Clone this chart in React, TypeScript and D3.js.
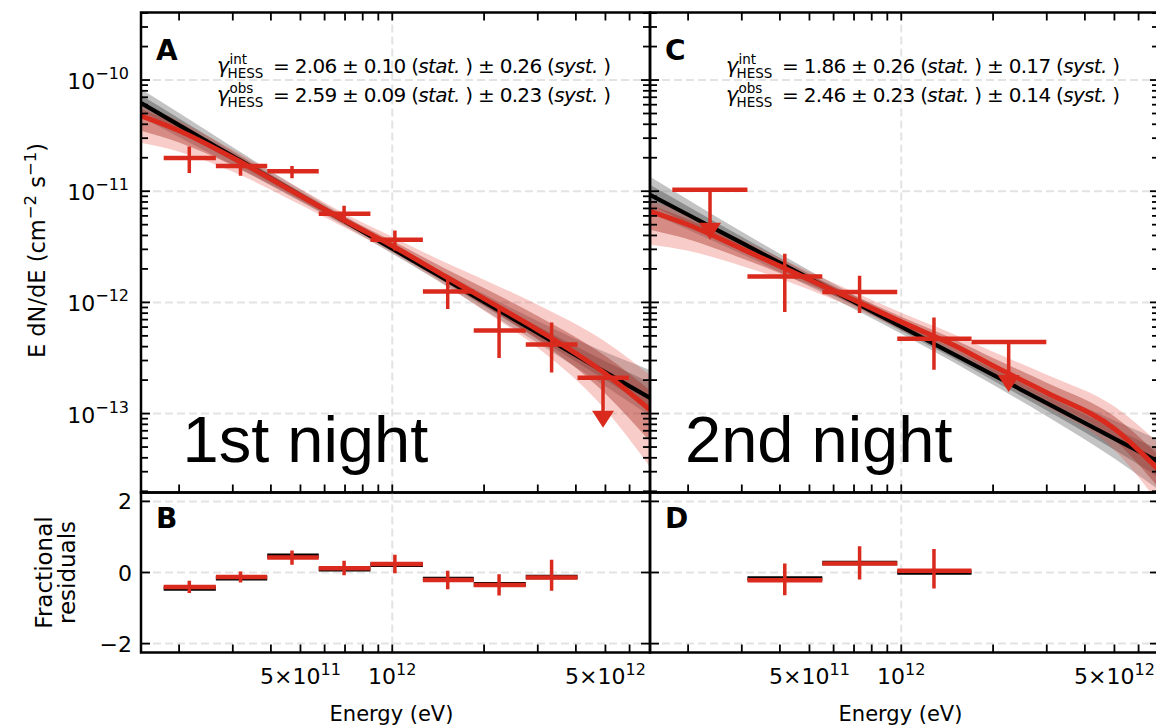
import React, { useEffect, useRef } from 'react';
import * as d3 from 'd3';

const modelEnergy = [1.5e11, 2e11, 3e11, 5e11, 7e11, 1e12, 1.5e12, 2e12, 3e12, 5e12, 7e12];

// ---- 1st night (panels A, B)
const n1Center = [2.16e11, 3.18e11, 4.69e11, 6.95e11, 1.02e12, 1.52e12, 2.24e12, 3.33e12];
const n1BinLow = [1.78e11, 2.64e11, 3.89e11, 5.74e11, 8.48e11, 1.26e12, 1.85e12, 2.74e12];
const n1BinHigh = [2.64e11, 3.89e11, 5.74e11, 8.48e11, 1.26e12, 1.85e12, 2.74e12, 4.05e12];
const n1Flux = [1.99e-11, 1.69e-11, 1.51e-11, 6.27e-12, 3.66e-12, 1.25e-12, 5.59e-13, 4.19e-13];
const n1FluxLow = [1.46e-11, 1.38e-11, 1.31e-11, 5.17e-12, 2.93e-12, 8.71e-13, 3.16e-13, 2.34e-13];
const n1FluxHigh = [2.53e-11, 1.92e-11, 1.69e-11, 7.4e-12, 4.44e-12, 1.68e-12, 8.71e-13, 6.6e-13];
const n1UlCenter = [4.91e12];
const n1UlBinLow = [4.05e12];
const n1UlBinHigh = [5.97e12];
const n1UlFlux = [2.1e-13];

const n1BlackModel = [6.21e-11, 3.93e-11, 2.06e-11, 9.14e-12, 5.36e-12, 3.04e-12, 1.6e-12, 1.01e-12, 5.3e-13, 2.35e-13, 1.38e-13];
const n1RedModel = [4.77e-11, 3.5e-11, 2.0e-11, 9.1e-12, 5.42e-12, 3.23e-12, 1.7e-12, 1.08e-12, 5.67e-13, 2.28e-13, 1.08e-13];
// band half-widths in dex (up / down), outer and inner
const n1BlackOuterUp = [0.126, 0.108, 0.081, 0.054, 0.045, 0.045, 0.054, 0.072, 0.108, 0.18, 0.252];
const n1BlackOuterDown = [0.126, 0.108, 0.081, 0.054, 0.045, 0.045, 0.054, 0.072, 0.09, 0.126, 0.162];
const n1BlackInnerUp = [0.07, 0.06, 0.045, 0.03, 0.025, 0.025, 0.03, 0.04, 0.06, 0.1, 0.14];
const n1BlackInnerDown = [0.07, 0.06, 0.045, 0.03, 0.025, 0.025, 0.03, 0.04, 0.05, 0.07, 0.09];
const n1RedOuterUp = [0.108, 0.09, 0.072, 0.063, 0.063, 0.081, 0.126, 0.171, 0.225, 0.288, 0.315];
const n1RedOuterDown = [0.243, 0.189, 0.126, 0.081, 0.063, 0.063, 0.081, 0.108, 0.162, 0.324, 0.513];
const n1RedInnerUp = [0.06, 0.05, 0.04, 0.035, 0.035, 0.045, 0.07, 0.095, 0.125, 0.16, 0.175];
const n1RedInnerDown = [0.135, 0.105, 0.07, 0.045, 0.035, 0.035, 0.045, 0.06, 0.09, 0.18, 0.285];

const n1Resid = [-0.41, -0.13, 0.42, 0.12, 0.24, -0.21, -0.35, -0.14];
const n1ResidLow = [-0.58, -0.28, 0.22, -0.08, -0.02, -0.47, -0.65, -0.51];
const n1ResidHigh = [-0.23, 0.03, 0.62, 0.33, 0.5, 0.05, -0.05, 0.36];
const n1ResidBlack = [-0.45, -0.16, 0.47, 0.09, 0.22, -0.18, -0.33, -0.13];

// ---- 2nd night (panels C, D)
const n2Center = [4.15e11, 7.3e11, 1.28e12];
const n2BinLow = [3.13e11, 5.51e11, 9.7e11];
const n2BinHigh = [5.51e11, 9.7e11, 1.7e12];
const n2Flux = [1.71e-12, 1.24e-12, 4.71e-13];
const n2FluxLow = [8.19e-13, 8.02e-13, 2.48e-13];
const n2FluxHigh = [2.74e-12, 1.74e-12, 7.32e-13];
const n2UlCenter = [2.36e11, 2.25e12];
const n2UlBinLow = [1.775e11, 1.7e12];
const n2UlBinHigh = [3.13e11, 2.99e12];
const n2UlFlux = [1.03e-11, 4.4e-13];

const n2BlackModel = [9.29e-12, 6.14e-12, 3.43e-12, 1.64e-12, 1.01e-12, 6.04e-13, 3.37e-13, 2.23e-13, 1.24e-13, 5.96e-14, 3.67e-14];
const n2RedModel = [6.58e-12, 4.99e-12, 3.03e-12, 1.6e-12, 1.05e-12, 6.68e-13, 4.07e-13, 2.69e-13, 1.54e-13, 7.3e-14, 3.1e-14];
const n2BlackOuterUp = [0.162, 0.135, 0.099, 0.072, 0.063, 0.063, 0.072, 0.09, 0.117, 0.162, 0.198];
const n2BlackOuterDown = [0.162, 0.135, 0.099, 0.072, 0.063, 0.063, 0.072, 0.09, 0.117, 0.18, 0.252];
const n2BlackInnerUp = [0.09, 0.075, 0.055, 0.04, 0.035, 0.035, 0.04, 0.05, 0.065, 0.09, 0.11];
const n2BlackInnerDown = [0.09, 0.075, 0.055, 0.04, 0.035, 0.035, 0.04, 0.05, 0.065, 0.1, 0.14];
const n2RedOuterUp = [0.108, 0.09, 0.081, 0.072, 0.072, 0.081, 0.099, 0.126, 0.162, 0.2, 0.24];
const n2RedOuterDown = [0.297, 0.234, 0.153, 0.09, 0.072, 0.072, 0.081, 0.099, 0.126, 0.19, 0.3];
const n2RedInnerUp = [0.06, 0.05, 0.045, 0.04, 0.04, 0.045, 0.055, 0.07, 0.09, 0.11, 0.13];
const n2RedInnerDown = [0.165, 0.13, 0.085, 0.05, 0.04, 0.04, 0.045, 0.055, 0.07, 0.1, 0.16];

const n2Resid = [-0.22, 0.25, 0.05];
const n2ResidLow = [-0.64, -0.2, -0.45];
const n2ResidHigh = [0.25, 0.74, 0.66];
const n2ResidBlack = [-0.17, 0.27, 0.0];

// ---- labels
const fluxDecades = [-13, -12, -11, -10];
const residTicks = [-2, 0, 2];
const energyLabels = [
  { v: 5e11, base: '5×10', exp: '11' },
  { v: 1e12, base: '10', exp: '12' },
  { v: 5e12, base: '5×10', exp: '12' },
];
const gammaLines = [
  [
    { sup: 'int', rest: ['= 2.06 ± 0.10 (', 'stat.', ' ) ± 0.26 (', 'syst.', ' )'] },
    { sup: 'obs', rest: ['= 2.59 ± 0.09 (', 'stat.', ' ) ± 0.23 (', 'syst.', ' )'] },
  ],
  [
    { sup: 'int', rest: ['= 1.86 ± 0.26 (', 'stat.', ' ) ± 0.17 (', 'syst.', ' )'] },
    { sup: 'obs', rest: ['= 2.46 ± 0.23 (', 'stat.', ' ) ± 0.14 (', 'syst.', ' )'] },
  ],
];

const FONT = "'DejaVu Sans', 'Noto Sans', sans-serif";
const RED = '#d92a1d';

const App = () => {
  const svgRef = useRef(null);

  useEffect(() => {
    const svg = d3.select(svgRef.current);
    svg.selectAll('*').remove();
    const defs = svg.append('defs');

    const top = [12.5, 492.5];
    const bot = [492.5, 652.5];
    const xLeft = d3.scaleLog().domain([1.5e11, 7e12]).range([141, 650]);
    const xRight = d3.scaleLog().domain([1.5e11, 7e12]).range([650, 1159]);
    const yFlux = d3.scaleLog().domain([1.95e-14, 4.05e-10]).range([top[1], top[0]]);
    const yRes = d3.scaleLinear().domain([-2.25, 2.25]).range([bot[1], bot[0]]);

    const xTickVals: number[] = [];
    [1e11, 1e12].forEach(d => { for (let k = 1; k <= 9; k++) { const v = k * d; if (v > 1.5e11 && v < 7e12) xTickVals.push(v); } });
    const yMinor: number[] = [];
    for (let n = -14; n <= -10; n++) for (let k = 2; k <= 9; k++) { const v = k * Math.pow(10, n); if (v > 1.95e-14 && v < 4.05e-10) yMinor.push(v); }

    let clipId = 0;
    const clipped = (x0, x1, y0, y1) => {
      const id = 'clip' + (clipId++);
      defs.append('clipPath').attr('id', id).append('rect')
        .attr('x', x0).attr('y', y0).attr('width', x1 - x0).attr('height', y1 - y0);
      return svg.append('g').attr('clip-path', `url(#${id})`);
    };

    const grid = (g, x, y, xv, yv) => {
      const [x0, x1] = x.range();
      const [y1, y0] = y.range();
      xv.forEach(v => g.append('line').attr('x1', x(v)).attr('x2', x(v)).attr('y1', y0).attr('y2', y1)
        .attr('stroke', '#e3e3e3').attr('stroke-width', 2).attr('stroke-dasharray', '8,4'));
      yv.forEach(v => g.append('line').attr('x1', x0).attr('x2', x1).attr('y1', y(v)).attr('y2', y(v))
        .attr('stroke', '#e3e3e3').attr('stroke-width', 2).attr('stroke-dasharray', '8,4'));
    };

    const band = (g, x, model, up, down, fill, opacity) => {
      const area = d3.area<number>()
        .x((d, i) => x(modelEnergy[i]))
        .y0((d, i) => yFlux(d * Math.pow(10, -down[i])))
        .y1((d, i) => yFlux(d * Math.pow(10, up[i])))
        .curve(d3.curveMonotoneX);
      g.append('path').attr('d', area(model)).attr('fill', fill).attr('fill-opacity', opacity);
    };

    const curve = (g, x, model, color, w) => {
      const line = d3.line<number>()
        .x((d, i) => x(modelEnergy[i]))
        .y(d => yFlux(d))
        .curve(d3.curveMonotoneX);
      g.append('path').attr('d', line(model)).attr('fill', 'none').attr('stroke', color).attr('stroke-width', w);
    };

    const crosses = (g, x, y, c, lo, hi, v, vlo, vhi, color) => {
      c.forEach((e, i) => {
        g.append('line').attr('x1', x(lo[i])).attr('x2', x(hi[i])).attr('y1', y(v[i])).attr('y2', y(v[i]))
          .attr('stroke', color).attr('stroke-width', 4.5);
        if (vlo) g.append('line').attr('x1', x(e)).attr('x2', x(e)).attr('y1', y(vlo[i])).attr('y2', y(vhi[i]))
          .attr('stroke', color).attr('stroke-width', 3.5);
      });
    };

    const upperLimits = (g, x, c, lo, hi, v) => {
      c.forEach((e, i) => {
        const cx = x(e), cy = yFlux(v[i]);
        g.append('line').attr('x1', x(lo[i])).attr('x2', x(hi[i])).attr('y1', cy).attr('y2', cy)
          .attr('stroke', RED).attr('stroke-width', 4.5);
        g.append('line').attr('x1', cx).attr('x2', cx).attr('y1', cy).attr('y2', cy + 36)
          .attr('stroke', RED).attr('stroke-width', 3.5);
        g.append('path').attr('d', `M${cx - 11},${cy + 33}L${cx + 11},${cy + 33}L${cx},${cy + 50}Z`).attr('fill', RED);
      });
    };

    const frame = (x, y, flux, topTicks) => {
      const [x0, x1] = x.range();
      const [y1, y0] = y.range();
      const g = svg.append('g').attr('stroke', '#000').attr('stroke-width', 1.8);
      xTickVals.forEach(v => {
        g.append('line').attr('x1', x(v)).attr('x2', x(v)).attr('y1', y1).attr('y2', y1 - 8);
        if (topTicks) g.append('line').attr('x1', x(v)).attr('x2', x(v)).attr('y1', y0).attr('y2', y0 + 8);
      });
      const ticks = flux
        ? [...fluxDecades.map(d => ({ v: Math.pow(10, d), len: 9 })), ...yMinor.map(v => ({ v, len: 7 }))]
        : residTicks.map(v => ({ v, len: 9 }));
      ticks.forEach(t => {
        const yy = y(t.v);
        g.append('line').attr('x1', x0).attr('x2', x0 + t.len).attr('y1', yy).attr('y2', yy);
        g.append('line').attr('x1', x1).attr('x2', x1 - t.len).attr('y1', yy).attr('y2', yy);
      });
      svg.append('rect').attr('x', x0).attr('y', y0).attr('width', x1 - x0).attr('height', y1 - y0)
        .attr('fill', 'none').attr('stroke', '#000').attr('stroke-width', 2.5);
    };

    const gamma = (x, y, line) => {
      svg.append('text').attr('x', x).attr('y', y).attr('font-family', FONT).attr('font-size', 20.5)
        .attr('font-style', 'italic').text('γ');
      svg.append('text').attr('x', x + 12.5).attr('y', y - 9).attr('font-family', FONT).attr('font-size', 13.5).text(line.sup);
      svg.append('text').attr('x', x + 10.5).attr('y', y + 5).attr('font-family', FONT).attr('font-size', 13.5).text('HESS');
      const t = svg.append('text').attr('x', x + 56).attr('y', y).attr('font-family', FONT).attr('font-size', 20)
        .attr('textLength', 338).attr('lengthAdjust', 'spacing');
      line.rest.forEach((s, i) => t.append('tspan').attr('font-style', i % 2 ? 'italic' : 'normal').text(s));
    };

    const panels = [
      {
        x: xLeft, center: n1Center, binLow: n1BinLow, binHigh: n1BinHigh, flux: n1Flux, fluxLow: n1FluxLow, fluxHigh: n1FluxHigh,
        ulC: n1UlCenter, ulLo: n1UlBinLow, ulHi: n1UlBinHigh, ulF: n1UlFlux,
        black: n1BlackModel, red: n1RedModel,
        bands: [n1BlackOuterUp, n1BlackOuterDown, n1BlackInnerUp, n1BlackInnerDown, n1RedOuterUp, n1RedOuterDown, n1RedInnerUp, n1RedInnerDown],
        res: n1Resid, resLo: n1ResidLow, resHi: n1ResidHigh, resBlack: n1ResidBlack,
        letters: ['A', 'B'], night: '1st night', nightDx: 41.5,
      },
      {
        x: xRight, center: n2Center, binLow: n2BinLow, binHigh: n2BinHigh, flux: n2Flux, fluxLow: n2FluxLow, fluxHigh: n2FluxHigh,
        ulC: n2UlCenter, ulLo: n2UlBinLow, ulHi: n2UlBinHigh, ulF: n2UlFlux,
        black: n2BlackModel, red: n2RedModel,
        bands: [n2BlackOuterUp, n2BlackOuterDown, n2BlackInnerUp, n2BlackInnerDown, n2RedOuterUp, n2RedOuterDown, n2RedInnerUp, n2RedInnerDown],
        res: n2Resid, resLo: n2ResidLow, resHi: n2ResidHigh, resBlack: n2ResidBlack,
        letters: ['C', 'D'], night: '2nd night', nightDx: 35,
      },
    ];

    panels.forEach((p, pi) => {
      const [x0, x1] = p.x.range();
      // spectrum panel
      const g = clipped(x0, x1, top[0], top[1]);
      grid(g, p.x, yFlux, [1e12], fluxDecades.map(d => Math.pow(10, d)));
      const b = p.bands;
      band(g, p.x, p.black, b[0], b[1], '#888888', 0.5);
      band(g, p.x, p.black, b[2], b[3], '#505050', 0.45);
      band(g, p.x, p.red, b[4], b[5], '#e85a4d', 0.3);
      band(g, p.x, p.red, b[6], b[7], '#a83228', 0.42);
      curve(g, p.x, p.black, '#000', 4.2);
      curve(g, p.x, p.red, RED, 5);
      crosses(g, p.x, yFlux, p.center, p.binLow, p.binHigh, p.flux, p.fluxLow, p.fluxHigh, RED);
      upperLimits(g, p.x, p.ulC, p.ulLo, p.ulHi, p.ulF);
      frame(p.x, yFlux, true, true);

      // residual panel
      const r = clipped(x0, x1, bot[0], bot[1]);
      grid(r, p.x, yRes, [1e12], residTicks);
      crosses(r, p.x, yRes, p.center, p.binLow, p.binHigh, p.resBlack, null, null, '#000');
      crosses(r, p.x, yRes, p.center, p.binLow, p.binHigh, p.res, p.resLo, p.resHi, RED);
      frame(p.x, yRes, false, false);

      // letters, big label, gamma text
      svg.append('text').attr('x', x0 + 15).attr('y', 60).attr('font-family', FONT).attr('font-weight', 'bold')
        .attr('font-size', 28).text(p.letters[0]);
      svg.append('text').attr('x', x0 + 15).attr('y', 527.5).attr('font-family', FONT).attr('font-weight', 'bold')
        .attr('font-size', 28).text(p.letters[1]);
      svg.append('text').attr('x', x0 + p.nightDx).attr('y', 461.5).attr('font-family', "'Liberation Sans', Arial, sans-serif")
        .attr('font-size', 65).text(p.night);
      gamma(x0 + 76, 73.3, gammaLines[pi][0]);
      gamma(x0 + 76, 101.7, gammaLines[pi][1]);

      // energy tick labels + axis title
      energyLabels.forEach(l => {
        const t = svg.append('text').attr('x', p.x(l.v)).attr('y', 684).attr('text-anchor', 'middle')
          .attr('font-family', FONT).attr('font-size', 22);
        t.append('tspan').text(l.base);
        t.append('tspan').attr('dy', -9).attr('font-size', 16).text(l.exp);
      });
      svg.append('text').attr('x', (x0 + x1) / 2 - 4).attr('y', 721).attr('text-anchor', 'middle')
        .attr('font-family', FONT).attr('font-size', 21).text('Energy (eV)');
    });

    // y tick labels (left panels only)
    fluxDecades.forEach(d => {
      const t = svg.append('text').attr('x', 129).attr('y', yFlux(Math.pow(10, d)) + 9).attr('text-anchor', 'end')
        .attr('font-family', FONT).attr('font-size', 22);
      t.append('tspan').text('10');
      t.append('tspan').attr('dy', -10).attr('font-size', 16).text('−' + Math.abs(d));
    });
    residTicks.forEach(v => {
      svg.append('text').attr('x', 132).attr('y', yRes(v) + 8).attr('text-anchor', 'end')
        .attr('font-family', FONT).attr('font-size', 22).text(v < 0 ? '−' + Math.abs(v) : String(v));
    });

    // y axis titles
    const yt = svg.append('text').attr('transform', `translate(45,${(top[0] + top[1]) / 2 - 2}) rotate(-90)`)
      .attr('text-anchor', 'middle').attr('font-family', FONT).attr('font-size', 22.5);
    yt.append('tspan').text('E dN/dE (cm');
    yt.append('tspan').attr('dy', -9).attr('font-size', 16.5).text('−2');
    yt.append('tspan').attr('dy', 9).text(' s');
    yt.append('tspan').attr('dy', -9).attr('font-size', 16.5).text('−1');
    yt.append('tspan').attr('dy', 9).text(')');
    ['Fractional', 'residuals'].forEach((s, i) => {
      svg.append('text').attr('transform', `translate(${52 + i * 23},${(bot[0] + bot[1]) / 2}) rotate(-90)`)
        .attr('text-anchor', 'middle').attr('font-family', FONT).attr('font-size', 23).text(s);
    });
  }, []);

  return (
    <svg ref={svgRef} width={1156} height={728}
      style={{ position: 'absolute', left: 0, top: 0, background: '#fff' }}></svg>
  );
};

export default App;
